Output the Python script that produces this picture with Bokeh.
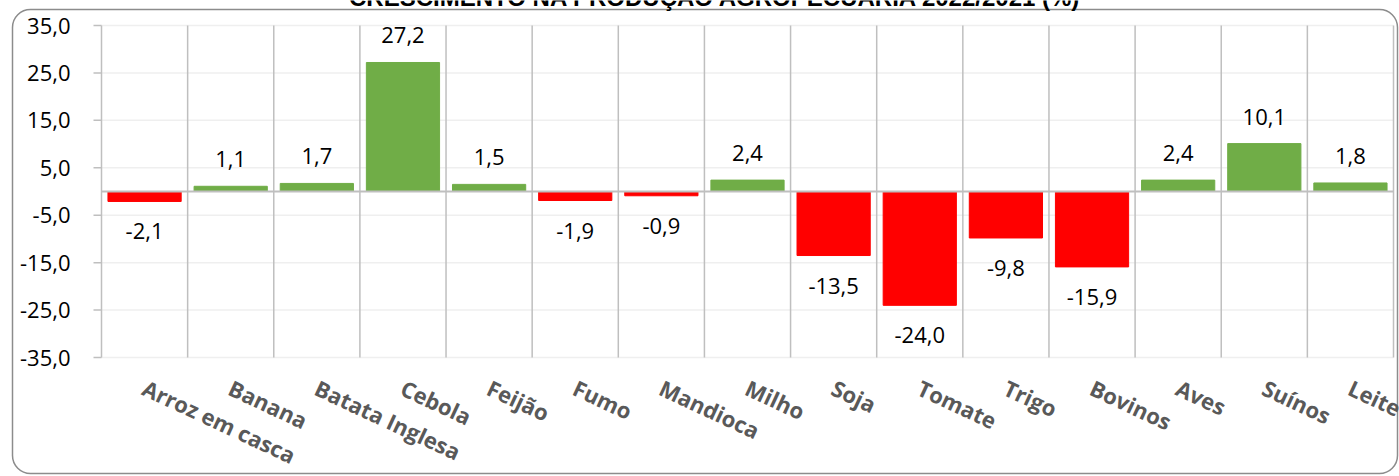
import math
from bokeh.plotting import figure
from bokeh.core.properties import value
from bokeh.models import ColumnDataSource, Range1d, LabelSet, Label
from bokeh.embed import file_html
from bokeh.resources import INLINE

# ---- data ----
categories = ["Arroz em casca", "Banana", "Batata Inglesa", "Cebola", "Feijão",
              "Fumo", "Mandioca", "Milho", "Soja", "Tomate", "Trigo", "Bovinos",
              "Aves", "Suínos", "Leite"]
growth = [-2.1, 1.1, 1.7, 27.2, 1.5, -1.9, -0.9, 2.4, -13.5, -24.0, -9.8, -15.9,
          2.4, 10.1, 1.8]
y_ticks = [-35, -25, -15, -5, 5, 15, 25, 35]
y_tick_labels = ["-35,0", "-25,0", "-15,0", "-5,0", "5,0", "15,0", "25,0", "35,0"]
title_text = "CRESCIMENTO NA PRODUÇÃO AGROPECUÁRIA 2022/2021 (%)"

# ---- styling / layout (pixels) ----
POS = "#70AD47"
NEG = "#FF0000"
GRID = "#BFBFBF"
HGRID = "#EFEFEF"
FONT = "Open Sans"
W, H = 1399, 476
PX_L, PX_R, PX_T, PX_B = 101, 1393, 25, 357   # plot area in the canvas
Y_MIN, Y_MAX = -35, 35
N = len(categories)
ux = (PX_R - PX_L) / N                 # px per category
uy = (PX_B - PX_T) / (Y_MAX - Y_MIN)   # px per unit


def px_x(px):
    return (px - PX_L) / ux


def px_y(py):
    return Y_MAX - (py - PX_T) / uy


p = figure(x_range=Range1d(px_x(0), px_x(W)), y_range=Range1d(px_y(H), px_y(0)),
           width=W, height=H, output_backend="svg", toolbar_location=None,
           title=None)
p.min_border = 0
p.outline_line_color = None
p.axis.visible = False
p.grid.visible = False
p.background_fill_color = "white"
p.border_fill_color = "white"

xpos = [i + 0.5 for i in range(N)]
bounds = list(range(1, N + 1))

src = ColumnDataSource(dict(
    x=xpos, cat=categories, val=growth,
    color=[POS if v >= 0 else NEG for v in growth],
    txt=[f"{v:.1f}".replace(".", ",") for v in growth],
    off=[19 if v >= 0 else -38 for v in growth],
))

# horizontal gridlines
p.segment(x0=0, x1=N, y0=y_ticks, y1=y_ticks, line_color=HGRID, line_width=1.5)
# vertical gridlines at category boundaries
p.segment(x0=bounds, x1=bounds, y0=Y_MIN, y1=Y_MAX, line_color=GRID, line_width=1.5)
# y axis line and ticks
p.segment(x0=0, x1=0, y0=Y_MIN, y1=Y_MAX, line_color=GRID, line_width=1.5)
p.segment(x0=-8 / ux, x1=0, y0=y_ticks, y1=y_ticks, line_color=GRID, line_width=1.5)

# bars
p.vbar(x="x", top="val", bottom=0, width=0.85, color="color", source=src)

# zero line
p.segment(x0=0, x1=N, y0=0, y1=0, line_color=GRID, line_width=2)

# y tick labels
ysrc = ColumnDataSource(dict(x=[0] * len(y_ticks), y=y_ticks, t=y_tick_labels))
p.add_layout(LabelSet(x="x", y="y", text="t", source=ysrc, x_offset=-31,
                      text_align="right", text_baseline="middle",
                      text_font=value(FONT), text_font_size=value("22px"),
                      text_color="black"))

# category labels (rotated, starting at each category centre, below plot area)
p.add_layout(LabelSet(x="x", y=Y_MIN, text="cat", source=src, x_offset=6,
                      y_offset=-15, angle=-25 * math.pi / 180,
                      text_align="left", text_baseline="top",
                      text_font=value(FONT), text_font_style=value("bold"),
                      text_font_size=value("22px"), text_color="#595959"))

# value labels
p.add_layout(LabelSet(x="x", y="val", text="txt", y_offset="off", source=src,
                      text_align="center", text_baseline="alphabetic",
                      text_font=value(FONT), text_font_size=value("22px"),
                      text_color="black"))

# title (cut at the top edge like the reference)
p.add_layout(Label(x=px_x(715), y=px_y(-3), text=title_text, text_align="center",
                   text_baseline="alphabetic", text_font="Liberation Sans",
                   text_font_style="bold", text_font_size="24px",
                   text_color="black"))

# rounded chart border
p.quad(left=px_x(12), right=px_x(1397), top=px_y(9), bottom=px_y(473),
       fill_color=None, line_color="#8C8C8C", line_width=1.5, border_radius=18)

open("out.html", "w").write(file_html(p, INLINE))
